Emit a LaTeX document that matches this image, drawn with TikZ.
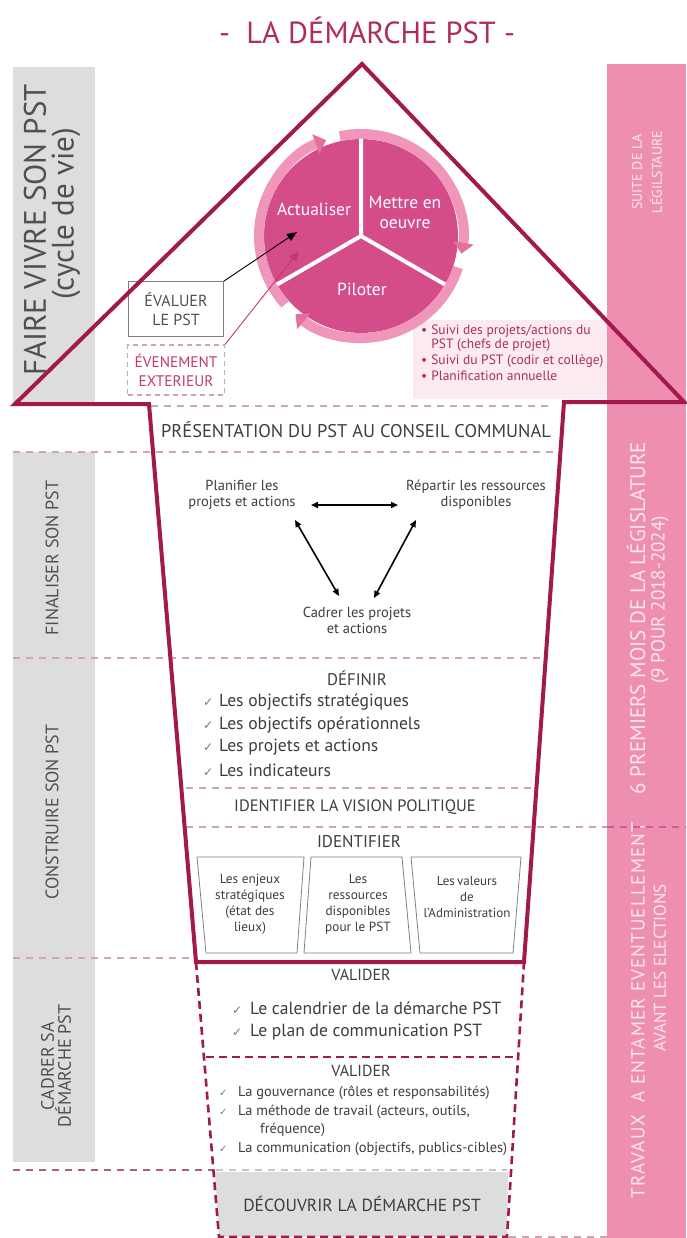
\documentclass[tikz,border=0pt]{standalone}
\usepackage{fontspec}
\setmainfont{PT Sans}
\newfontfamily\plainsans{PT Sans}
\newfontfamily\widesans{PT Sans}[LetterSpace=6]
\newfontfamily\chk{DejaVu Sans}
\usetikzlibrary{arrows.meta,calc}
\definecolor{maroon}{RGB}{163,25,75}
\definecolor{titlecol}{RGB}{175,45,90}
\definecolor{pinkcol}{RGB}{238,143,178}
\definecolor{ringpink}{RGB}{240,150,186}
\definecolor{tippink}{RGB}{228,112,160}
\definecolor{disc}{RGB}{212,76,136}
\definecolor{lightpinkbg}{RGB}{252,234,241}
\definecolor{graycol}{RGB}{221,221,221}
\definecolor{dashc}{RGB}{205,165,180}
\definecolor{midmaroon}{RGB}{175,95,125}
\definecolor{pdash}{RGB}{205,95,140}
\definecolor{textgray}{RGB}{62,62,62}
\definecolor{labgray}{RGB}{80,80,80}
\definecolor{ckgray}{RGB}{120,120,120}
\definecolor{bultext}{RGB}{170,45,95}
\definecolor{evtcol}{RGB}{195,55,110}
\definecolor{coltext}{RGB}{253,230,239}
\newcommand\myfs[2]{\fontsize{#1}{#2}\selectfont}
\newcommand\ck{{\chk\myfs{12}{12}\color{ckgray}✓}}
\newcommand\cks{{\chk\myfs{10}{10}\color{ckgray}✓}}
\begin{document}
\begin{tikzpicture}[x=1pt,y=-1pt,
  outl/.style={draw=maroon, line width=4pt, line join=miter},
  dsh/.style={draw=dashc, line width=1.6pt, dash pattern=on 7pt off 6pt},
  mdsh/.style={draw=maroon, line width=2.6pt, dash pattern=on 8pt off 5pt},
  txt/.style={text=textgray, inner sep=0pt},
  lab/.style={text=labgray, inner sep=0pt, rotate=90, font=\myfs{18}{17}, align=center},
  coltxt/.style={text=coltext, inner sep=0pt, rotate=90},
  cyc/.style={text=white, inner sep=0pt, font=\myfs{17.5}{20}, align=center},
  idbox/.style={draw=gray, line width=0.8pt},
  dbl/.style={{Triangle[width=6pt,length=7pt]}-{Triangle[width=6pt,length=7pt]}, line width=1.6pt, black}]
\path[use as bounding box] (0,0) rectangle (686,1238);
\fill[white] (0,0) rectangle (686,1238);
% side columns
\fill[graycol] (13,67) rectangle (95,404);
\fill[graycol] (13,452) rectangle (95,1162);
\fill[pinkcol] (607,64) rectangle (686,1238);
\fill[lightpinkbg] (413,320) rectangle (607,399);
% title
\node[font=\myfs{30.5}{32}, text=titlecol] (title) at (367,30) {-\ \ LA DÉMARCHE PST -};
% left labels
\node[lab, font=\myfs{31}{32}] (lfaire) at (35,230) {FAIRE VIVRE SON PST};
\node[lab, font=\myfs{31}{32}] (lcycle) at (66,214) {(cycle de vie)};
\node[lab] (lfinal) at (52,558) {FINALISER SON PST};
\node[lab] (lconstr) at (52,812) {CONSTRUIRE SON PST};
\node[lab] (lcadrer) at (56,1066) {CADRER SA\\DÉMARCHE PST};
% right labels
\node[coltxt, font=\myfs{14}{20}, align=center] (rsuite) at (647,172) {SUITE DE LA\\LÉGILSTAURE};
\node[coltxt, font=\myfs{21}{22}] (rsix) at (636,618) {6 PREMIERS MOIS DE LA LÉGISLATURE};
\node[coltxt, font=\myfs{19}{20}] (rneuf) at (660,600) {(9 POUR 2018-2024)};
\node[coltxt, font=\widesans\myfs{19}{20}] (rtrav) at (638,1010) {TRAVAUX\ \ A ENTAMER EVENTUELLEMENT};
\node[coltxt, font=\myfs{17}{20}] (ravant) at (660,968) {AVANT LES ELECTIONS};
% cycle
\coordinate (C) at (361,236);
\fill[disc] (C) circle[radius=97];
\draw[ringpink, line width=10pt, -{Triangle[width=20pt,length=11pt,color=tippink]}] ($(C)+(138:102)$) arc[start angle=138, end angle=250, radius=102];
\draw[ringpink, line width=10pt, -{Triangle[width=20pt,length=11pt,color=tippink]}] ($(C)+(258:102)$) arc[start angle=258, end angle=370, radius=102];
\draw[ringpink, line width=10pt, -{Triangle[width=20pt,length=11pt,color=tippink]}] ($(C)+(18:102)$) arc[start angle=18, end angle=130, radius=102];
\coordinate (s1) at ($(C)+(270:97)$);
\coordinate (s2) at ($(C)+(150:97)$);
\coordinate (s3) at ($(C)+(30:97)$);
\draw[white, line width=4pt] (C) -- (s1) (C) -- (s2) (C) -- (s3);
\node[cyc] (act) at (314,209) {Actualiser};
\node[cyc] (met) at (405,212) {Mettre en\\oeuvre};
\node[cyc] (pil) at (362,289) {Piloter};
% evaluation boxes
\node[draw=gray, line width=0.8pt, minimum width=95pt, minimum height=55pt, align=center, text=labgray, font=\myfs{16}{19}] (eval) at (176,309) {ÉVALUER\\LE PST};
\node[draw=dashc, line width=1.2pt, dash pattern=on 5pt off 4pt, minimum width=97pt, minimum height=50pt, align=center, text=evtcol, font=\myfs{15.3}{19}] (evt) at (176,370) {ÉVENEMENT\\EXTERIEUR};
\coordinate (a1) at (297,232);
\coordinate (a2) at (299,251);
\draw[line width=0.9pt, -{Triangle[width=8pt,length=10pt]}] (eval.north east) -- (a1);
\draw[evtcol, line width=0.9pt, -{Triangle[width=8pt,length=10pt]}] (evt.north east) -- (a2);
% bullets
\node[anchor=north west, inner sep=0pt, text=bultext, font=\myfs{13.5}{12.5}] (bul) at (421,325) {%
\begin{tabular}{@{}l@{\hspace{4pt}}l@{}}
\textbullet & Suivi des projets/actions du\\
 & PST (chefs de projet)\\[3pt]
\textbullet & Suivi du PST (codir et collège)\\[3pt]
\textbullet & Planification annuelle
\end{tabular}};
% dashed lines
\draw[dsh] (151,406) -- (553,406);
\draw[dsh] (13,452) -- (556,452);
\draw[dsh] (13,658) -- (545,658);
\draw[dsh] (186,788) -- (531,788);
\draw[dsh] (186,827) -- (607,827);
\draw[draw=pdash, line width=1.8pt, dash pattern=on 7pt off 6pt] (607,827) -- (686,827);
\draw[dsh] (13,958) -- (195,958);
\draw[draw=midmaroon, line width=1.8pt, dash pattern=on 7pt off 6pt] (13,1170) -- (214,1170);
% decouvrir box
\fill[graycol] (215,1172) -- (508,1172) -- (507,1237) -- (219,1237) -- cycle;
\draw[draw=gray!45, line width=1.4pt, dash pattern=on 7pt off 6pt] (216,1170) -- (507,1170);
\node[txt, font=\myfs{17.5}{20}] (decouv) at (362,1204) {DÉCOUVRIR LA DÉMARCHE PST};
% big arrow outline
\draw[outl] (149,404) -- (15,404) -- (362,64) -- (684,402) -- (564,402) -- (524,962) -- (196,962) -- cycle;
% lower dashed trapezoid
\draw[mdsh] (196,962) -- (219,1237) -- (507,1237) -- (524,962);
\draw[mdsh] (206,1057) -- (516,1057);
\draw[dsh] (509,1237) -- (607,1237);
% shaft texts
\node[txt, font=\myfs{18.4}{20}] (pres) at (356,430) {PRÉSENTATION DU PST AU CONSEIL COMMUNAL};
\node[txt, font=\myfs{14.5}{16}, align=center] (plan) at (242,495) {Planifier les\\projets et actions};
\node[txt, font=\myfs{14.5}{16}, align=center] (rep) at (476,495) {Répartir les ressources\\disponibles};
\node[txt, font=\myfs{14.5}{16}, align=center] (cadr) at (357,620) {Cadrer les projets\\et actions};
\coordinate (h1) at (311,505); \coordinate (h2) at (398,505);
\coordinate (l1) at (295,520); \coordinate (l2) at (339,596);
\coordinate (r1) at (416,520); \coordinate (r2) at (374,598);
\draw[dbl] (h1) -- (h2);
\draw[dbl] (l1) -- (l2);
\draw[dbl] (r1) -- (r2);
\node[txt, font=\myfs{16.8}{18}] (definir) at (357,678) {DÉFINIR};
\node[txt, anchor=west, font=\myfs{17.6}{18}] (d1) at (203,702) {\makebox[16pt][l]{\ck}Les objectifs stratégiques};
\node[txt, anchor=west, font=\myfs{17.6}{18}] (d2) at (203,725) {\makebox[16pt][l]{\ck}Les objectifs opérationnels};
\node[txt, anchor=west, font=\myfs{17.6}{18}] (d3) at (203,747) {\makebox[16pt][l]{\ck}Les projets et actions};
\node[txt, anchor=west, font=\myfs{17.6}{18}] (d4) at (203,770) {\makebox[16pt][l]{\ck}Les indicateurs};
\node[txt, font=\myfs{16.5}{18}] (vision) at (355,807) {IDENTIFIER LA VISION POLITIQUE};
\node[txt, font=\myfs{17}{18}] (ident) at (359,842) {IDENTIFIER};
\draw[idbox] (197,857) -- (304,857) -- (297,953) -- (206,953) -- cycle;
\draw[idbox] (311,857) -- (402,857) -- (411,953) -- (304,953) -- cycle;
\draw[idbox] (411,857) -- (521,857) -- (513,953) -- (420,953) -- cycle;
\node[txt, font=\myfs{13.3}{16}, align=center] (b1) at (250,904) {Les enjeux\\stratégiques\\(état des\\lieux)};
\node[txt, font=\myfs{13.3}{16}, align=center] (b2) at (358,904) {Les\\ressources\\disponibles\\pour le PST};
\node[txt, font=\myfs{13}{16}, align=center] (b3) at (467,897) {Les\,valeurs\\de\\l'Administration};
\node[txt, font=\myfs{16}{18}] (val1) at (361,975) {VALIDER};
\node[txt, anchor=west, font=\myfs{17.6}{18}] (v1) at (232,1008) {\makebox[18pt][l]{\ck}Le calendrier de la démarche PST};
\node[txt, anchor=west, font=\myfs{17.6}{18}] (v2) at (232,1032) {\makebox[18pt][l]{\ck}Le plan de communication PST};
\node[txt, font=\myfs{16}{18}] (val2) at (361,1071) {VALIDER};
\node[txt, anchor=west, font=\myfs{14.4}{15}] (w1) at (219,1093) {\makebox[19pt][l]{\cks}La gouvernance (rôles et responsabilités)};
\node[txt, anchor=west, font=\myfs{14.4}{15}] (w2) at (219,1112) {\makebox[19pt][l]{\cks}La méthode de travail (acteurs, outils,};
\node[txt, anchor=west, font=\myfs{14.4}{15}] (w3) at (260,1130) {fréquence)};
\node[txt, anchor=west, font=\myfs{14.4}{15}] (w4) at (219,1149) {\makebox[19pt][l]{\cks}La communication (objectifs, publics-cibles)};
\end{tikzpicture}
\end{document}
